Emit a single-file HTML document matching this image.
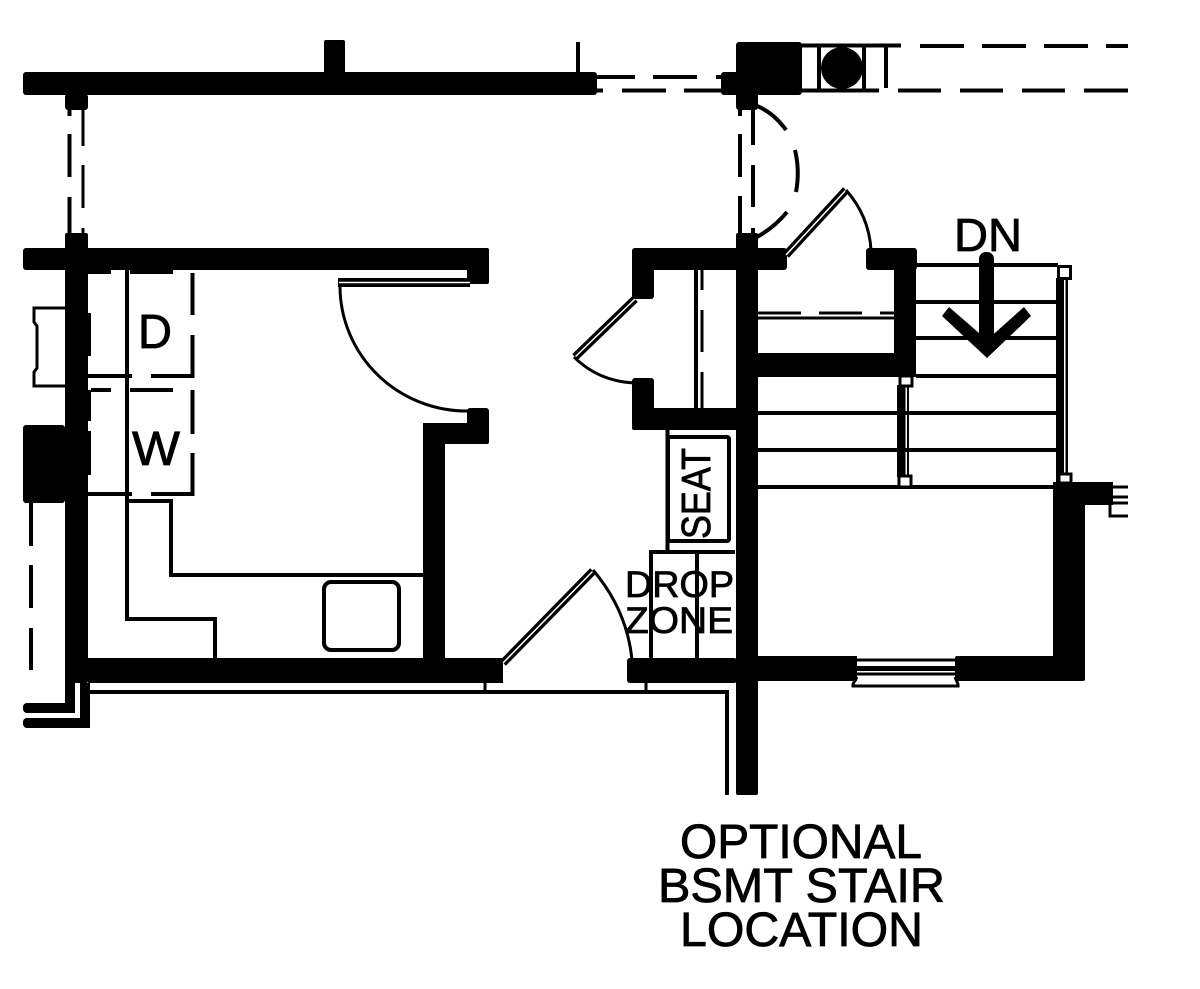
<!DOCTYPE html>
<html><head><meta charset="utf-8"><style>
html,body{margin:0;padding:0;background:#fff}
svg{display:block}
text{font-family:"Liberation Sans",sans-serif;fill:#000;stroke:#000;stroke-width:.8}
</style></head><body>
<svg width="1200" height="989" viewBox="0 0 1200 989" xmlns="http://www.w3.org/2000/svg">
<rect width="1200" height="989" fill="#fff"/>
<!-- walls -->
<g fill="#000">
<rect x="23" y="72" width="574" height="23" rx="3"/>
<rect x="324" y="40" width="21" height="34" rx="2"/>
<rect x="65" y="94" width="23" height="16" rx="3"/>
<rect x="23" y="248" width="466" height="22" rx="3"/>
<rect x="65" y="233" width="23" height="450" rx="2"/>
<rect x="88" y="313" width="3" height="43"/><rect x="88" y="390" width="3" height="31"/><rect x="88" y="431" width="3" height="44"/>
<rect x="23" y="425" width="42" height="78" rx="3"/>
<rect x="88" y="658" width="415" height="25"/>
<rect x="65" y="680" width="10" height="33"/>
<rect x="23" y="703" width="52" height="10" rx="4"/>
<rect x="23" y="718" width="67" height="10" rx="4"/>
<rect x="80" y="683" width="10" height="45"/>
<rect x="467" y="248" width="22" height="36" rx="2"/>
<rect x="467" y="408" width="22" height="36" rx="3"/>
<rect x="423" y="423" width="66" height="21" rx="2"/>
<rect x="423" y="423" width="22" height="237"/>
<!-- upper right block -->
<rect x="736" y="42" width="66" height="53" rx="3"/>
<rect x="721" y="72" width="20" height="23" rx="3"/>
<rect x="736" y="90" width="22" height="20" rx="3"/>
<rect x="632" y="248" width="155" height="22" rx="3"/>
<rect x="632" y="248" width="22" height="51" rx="3"/>
<rect x="632" y="378" width="22" height="52" rx="3"/>
<rect x="632" y="408" width="110" height="22" rx="2"/>
<rect x="736" y="233" width="22" height="562" rx="2"/>
<rect x="866" y="248" width="51" height="22" rx="3"/>
<rect x="894" y="248" width="22" height="127" rx="2"/>
<rect x="758" y="353" width="158" height="24"/>
<rect x="627" y="658" width="110" height="25" rx="3"/>
<rect x="756" y="656" width="101" height="25"/>
<rect x="955" y="656" width="129" height="25" rx="2"/>
<rect x="1053" y="482" width="32" height="199" rx="2"/>
<rect x="1053" y="482" width="60" height="23"/>
<circle cx="842" cy="68" r="21"/>
<!-- arrow -->
<rect x="979" y="252" width="15" height="92" rx="7"/>
<polygon points="942,316 949,307 987,340 1024,307 1031,316 987,358"/>
<!-- rails -->
<rect x="1056" y="278" width="12" height="205"/>
<rect x="897" y="385" width="12" height="92"/>
</g>
<rect x="1064" y="280" width="1.500" height="200" fill="#fff"/>
<rect x="905.500" y="387" width="1.500" height="88" fill="#fff"/>
<!-- thin lines -->
<g fill="none" stroke="#000" stroke-linecap="butt">
<path d="M578 42V72" stroke-width="4"/>
<path d="M69.500 110V116M69.500 134V177M69.500 197V233" stroke-width="4"/>
<path d="M83 108V146M83 165V208M83 228V240" stroke-width="3"/>
<!-- top dashes -->
<path d="M597 77H635M653 77H697M716 77H722" stroke-width="4"/>
<path d="M597 90.500H603M622 90.500H666M684 90.500H722" stroke-width="4"/>
<path d="M800 45.500H901M920 46H964M982 46H1026M1044 46H1088M1106 46H1128" stroke-width="4"/>
<path d="M800 90.500H879M898 90.500H941M960 90.500H1003M1022 90.500H1065M1084 90.500H1128" stroke-width="4"/>
<path d="M819 46V90M864 46V90" stroke-width="4"/>
<path d="M886 44V88" stroke-width="4"/>
<!-- vertical dashes by door -->
<path d="M740 110V116M740 134V177M740 196V235" stroke-width="4"/>
<path d="M753 105V145M753 165V207M753 228V240" stroke-width="4"/>
<path d="M757 106Q774 113 786 130" stroke-width="4"/>
<path d="M795 150Q800 171 796 192" stroke-width="4"/>
<path d="M787 212Q774 228 755 238" stroke-width="4"/>
<!-- door leaves -->
<path d="M786 255L846 190" stroke-width="8"/>
<path d="M786 255L846 190" stroke="#fff" stroke-width="1.500"/>
<path d="M846 190Q869 216 871 250" stroke-width="3"/>
<path d="M635 299L575 357" stroke-width="8"/>
<path d="M635 299L575 357" stroke="#fff" stroke-width="1.500"/>
<path d="M574 357Q598 381 634 383" stroke-width="3"/>
<path d="M503 663L593 571" stroke-width="8"/>
<path d="M503 663L593 571" stroke="#fff" stroke-width="1.500"/>
<path d="M593 570Q627 610 632 660" stroke-width="3"/>
<path d="M338 282.500H470" stroke-width="9"/>
<path d="M339 282.500H470" stroke="#fff" stroke-width="1.500"/>
<path d="M340 287A127 125 0 0 0 470 411" stroke-width="3"/>
<!-- mudroom -->
<path d="M696 270V408" stroke-width="4"/>
<path d="M702 270V290M702 310V352M702 372V408" stroke-width="3"/>
<path d="M758 313H894" stroke-width="3" stroke-dasharray="43 18"/>
<path d="M758 318H894" stroke-width="3"/>
<!-- seat/drop zone -->
<path d="M667.500 430V552" stroke-width="4"/>
<rect x="668" y="437" width="61" height="104" rx="2" stroke-width="4"/>
<path d="M651 658V552H735" stroke-width="4"/>
<path d="M697 552V658" stroke-width="4"/>
<!-- laundry -->
<path d="M127 270V619H215V658" stroke-width="4"/>
<path d="M127 501H171V575H423" stroke-width="4"/>
<path d="M192.500 273V315M192.500 335V376H151M132 376H88" stroke-width="4"/>
<path d="M91 390H111M130 390H173" stroke-width="4"/>
<path d="M192.500 390V434M192.500 453V494H151M132 494H88" stroke-width="4"/>
<path d="M88 272H111M130 272H173" stroke-width="4"/>
<rect x="324" y="582" width="75" height="68" rx="7" stroke-width="4"/>
<!-- left window -->
<path d="M65 308H34V322L37 326V368L34 372V386H65" stroke-width="3"/>
<path d="M31 503V546M31 565V608M31 628V670" stroke-width="4"/>
<!-- bottom outer line -->
<path d="M90 692H727V795" stroke-width="4"/>
<path d="M485 683V692M646 683V692" stroke-width="3"/>
<!-- stairs -->
<path d="M916 265H1058M916 302H1056M916 338H1056M916 376H1056" stroke-width="4"/>
<path d="M758 413H1056M758 450H1056M758 487H1056" stroke-width="4"/>
<rect x="1058.500" y="266.500" width="12" height="12" stroke-width="3" fill="#fff"/>
<rect x="1059" y="474" width="12" height="9" stroke-width="3" fill="#fff"/>
<rect x="900" y="376" width="12" height="10" stroke-width="3" fill="#fff"/>
<rect x="899" y="476" width="12" height="11" stroke-width="3" fill="#fff"/>
<!-- right stub -->
<path d="M1113 487H1128M1113 497H1128M1113 503H1128" stroke-width="3"/>
<path d="M1110 505V516H1128" stroke-width="3"/>
<!-- window bottom -->
<g stroke-width="3">
<path d="M857 660H955"/>
<path d="M857 668.500H955" stroke-width="5"/>
<path d="M857 674H955"/>
<path d="M857 677L853 684V686H958V684L955 677" />
</g>
</g>
<!-- text -->
<text x="138" y="348" font-size="48" textLength="34" lengthAdjust="spacingAndGlyphs">D</text>
<text x="132" y="465" font-size="48" textLength="48" lengthAdjust="spacingAndGlyphs">W</text>
<text x="954" y="251" font-size="46" textLength="68" lengthAdjust="spacingAndGlyphs">DN</text>
<text transform="translate(710 539) rotate(-90)" font-size="41" textLength="91" lengthAdjust="spacingAndGlyphs">SEAT</text>
<text x="625" y="597" font-size="37" textLength="109" lengthAdjust="spacingAndGlyphs">DROP</text>
<text x="625" y="633" font-size="37" textLength="108" lengthAdjust="spacingAndGlyphs">ZONE</text>
<text x="680" y="858" font-size="48" textLength="242" lengthAdjust="spacingAndGlyphs">OPTIONAL</text>
<text x="658" y="902" font-size="48" textLength="287" lengthAdjust="spacingAndGlyphs">BSMT STAIR</text>
<text x="680" y="946" font-size="48" textLength="243" lengthAdjust="spacingAndGlyphs">LOCATION</text>
</svg>
</body></html>
